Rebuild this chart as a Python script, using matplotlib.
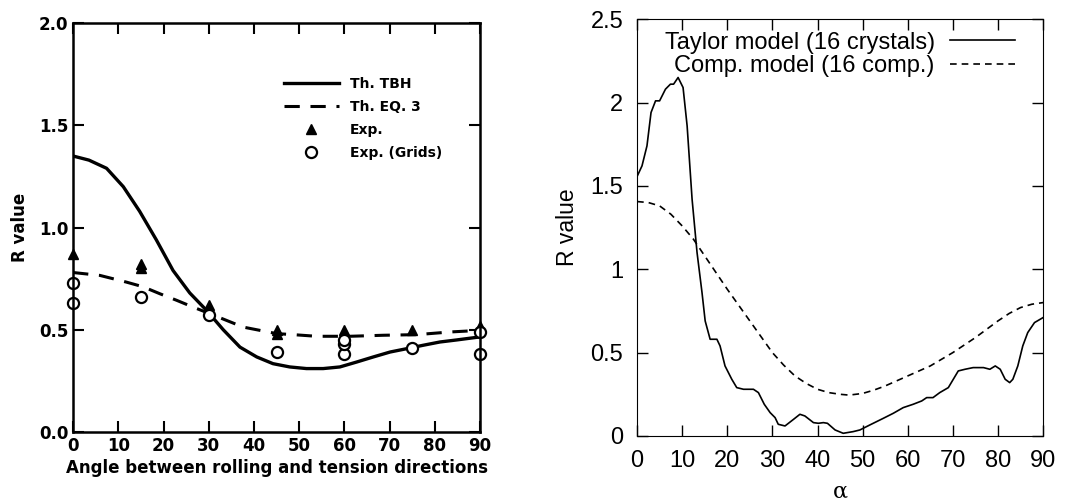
import matplotlib.pyplot as plt
from matplotlib.ticker import FormatStrFormatter, FuncFormatter

# left panel: theory curves and experiments
ang_tbh = [0, 3.5, 7.4, 11.1, 14.7, 18.4, 22.1, 25.8, 29.5, 33.2, 36.9, 40.6, 44.2, 47.9,
           51.6, 55.3, 59.0, 62.7, 66.4, 70.1, 73.7, 77.4, 81.1, 84.8, 90]
r_tbh = [1.35, 1.33, 1.29, 1.20, 1.08, 0.94, 0.79, 0.68, 0.595, 0.50, 0.415, 0.367, 0.334,
         0.318, 0.31, 0.31, 0.318, 0.342, 0.367, 0.391, 0.407, 0.424, 0.44, 0.45, 0.465]

ang_eq3 = [0, 5.9, 11.8, 15.5, 19.2, 22.9, 26.5, 30.2, 33.9, 37.6, 41.3, 45, 48.7, 53.8,
           61.2, 68.6, 76, 83.3, 90]
r_eq3 = [0.78, 0.766, 0.733, 0.71, 0.676, 0.644, 0.611, 0.579, 0.546, 0.513, 0.497, 0.481,
         0.476, 0.468, 0.468, 0.473, 0.476, 0.489, 0.497]

exp_ang = [0, 15, 15, 30, 45, 45, 60, 60, 75, 90]
exp_r = [0.87, 0.82, 0.80, 0.62, 0.50, 0.48, 0.50, 0.48, 0.50, 0.52]

grid_ang = [0, 0, 15, 30, 45, 60, 60, 60, 75, 90, 90]
grid_r = [0.73, 0.63, 0.66, 0.57, 0.39, 0.38, 0.43, 0.45, 0.41, 0.49, 0.38]

# right panel: Taylor model and component model
alpha_t = [0, 1.1, 2.2, 3.1, 4.1, 5.0, 6.3, 7.4, 8.1, 9.1, 10.2, 11.1, 12.2, 13.3, 14.4,
           15.1, 16.2, 17.7, 18.4, 19.5, 21.0, 22.1, 23.6, 25.8, 26.9, 28.2, 29.5, 30.6,
           31.3, 32.8, 34.7, 36.1, 37.2, 39.1, 40.2, 41.3, 42.2, 43.9, 45.7, 47.9, 49.4,
           51.6, 54.6, 56.8, 59.0, 61.2, 63.1, 64.2, 65.6, 67.1, 69.0, 70.1, 71.2, 72.7,
           74.5, 76.8, 78.2, 79.4, 80.5, 81.6, 82.6, 83.3, 84.4, 85.5, 86.6, 88.1, 90]
r_taylor = [1.556, 1.62, 1.74, 1.94, 2.01, 2.01, 2.08, 2.11, 2.11, 2.15, 2.09, 1.86, 1.42,
            1.10, 0.86, 0.69, 0.58, 0.58, 0.54, 0.42, 0.34, 0.29, 0.28, 0.28, 0.26, 0.19,
            0.14, 0.11, 0.07, 0.06, 0.10, 0.13, 0.12, 0.08, 0.076, 0.08, 0.076, 0.036,
            0.016, 0.026, 0.036, 0.066, 0.106, 0.136, 0.17, 0.19, 0.21, 0.23, 0.23, 0.26,
            0.29, 0.34, 0.39, 0.40, 0.41, 0.41, 0.40, 0.42, 0.40, 0.34, 0.32, 0.34, 0.42,
            0.54, 0.62, 0.68, 0.71]

alpha_c = [0, 2.5, 5, 7.5, 10, 12.5, 15, 17.5, 20, 22.5, 25, 27.5, 30, 32.5, 35, 37.5, 40,
           42.5, 45, 47, 50, 52.5, 55, 57.5, 60, 62.5, 65, 67.5, 70, 72.5, 75, 77.5, 80,
           82.5, 85, 87.5, 90]
r_comp = [1.406, 1.40, 1.38, 1.33, 1.26, 1.18, 1.08, 0.98, 0.88, 0.785, 0.69, 0.595, 0.50,
          0.425, 0.36, 0.315, 0.28, 0.26, 0.25, 0.245, 0.255, 0.275, 0.30, 0.33, 0.36, 0.39,
          0.42, 0.46, 0.50, 0.545, 0.59, 0.64, 0.69, 0.735, 0.77, 0.79, 0.80]

fig = plt.figure(figsize=(10.75, 5.04), dpi=100)

# ---- left ----
ax1 = fig.add_axes([0.068, 0.143, 0.3786, 0.811])
ax1.plot(ang_tbh, r_tbh, color='black', lw=2.4, label='Th. TBH')
ax1.plot(ang_eq3, r_eq3, color='black', lw=2.2, dashes=(5, 3.5), label='Th. EQ. 3')
ax1.plot(exp_ang, exp_r, linestyle='none', marker='^', ms=7, color='black', label='Exp.',
         clip_on=False)
ax1.plot(grid_ang, grid_r, linestyle='none', marker='o', ms=8, mfc='white', mec='black',
         mew=1.6, label='Exp. (Grids)', clip_on=False)
ax1.set_xlim(0, 90)
ax1.set_ylim(0, 2.0)
ax1.set_xticks(range(0, 91, 10))
ax1.set_yticks([0, 0.5, 1.0, 1.5, 2.0])
ax1.yaxis.set_major_formatter(FormatStrFormatter('%.1f'))
ax1.tick_params(direction='in', top=True, right=True, length=8, width=1.5)
for lab in ax1.get_xticklabels() + ax1.get_yticklabels():
    lab.set_fontweight('bold')
    lab.set_fontsize(12)
for s in ax1.spines.values():
    s.set_linewidth(1.8)
ax1.set_xlabel('Angle between rolling and tension directions', fontsize=12,
               fontweight='bold', labelpad=3)
ax1.set_ylabel('R value', fontsize=12, fontweight='bold', labelpad=7)
ax1.legend(loc='upper left', bbox_to_anchor=(0.5, 0.885), frameon=False,
           handlelength=4, borderpad=0, labelspacing=0.65,
           prop={'weight': 'bold', 'size': 10})

# ---- right ----
ax2 = fig.add_axes([0.5926, 0.135, 0.3777, 0.827])
ax2.plot(alpha_t, r_taylor, color='black', lw=1.2, label='Taylor model (16 crystals)')
ax2.plot(alpha_c, r_comp, color='black', lw=1.2, dashes=(4, 3), label='Comp. model (16 comp.)')
ax2.set_xlim(0, 90)
ax2.set_ylim(0, 2.5)
ax2.set_xticks(range(0, 91, 10))
ax2.set_yticks([0, 0.5, 1, 1.5, 2, 2.5])
ax2.yaxis.set_major_formatter(FuncFormatter(lambda v, p: ('%g' % v)))
ax2.tick_params(direction='in', top=True, right=True, length=8, width=1, labelsize=17, pad=10)
for lab in ax2.get_xticklabels() + ax2.get_yticklabels():
    lab.set_family('Liberation Sans')
ax2.set_xlabel('α', fontsize=16, family='DejaVu Serif', labelpad=6)
ax2.set_ylabel('R value', fontsize=16.5, family='Liberation Sans', labelpad=8)
ax2.legend(loc='upper right', bbox_to_anchor=(0.931, 0.97), frameon=False, markerfirst=False,
           handlelength=2.75, handletextpad=0.65, borderpad=0, borderaxespad=0,
           labelspacing=0.05, prop={'family': 'Liberation Sans', 'size': 17})

fig.savefig('out.png', dpi=100)
